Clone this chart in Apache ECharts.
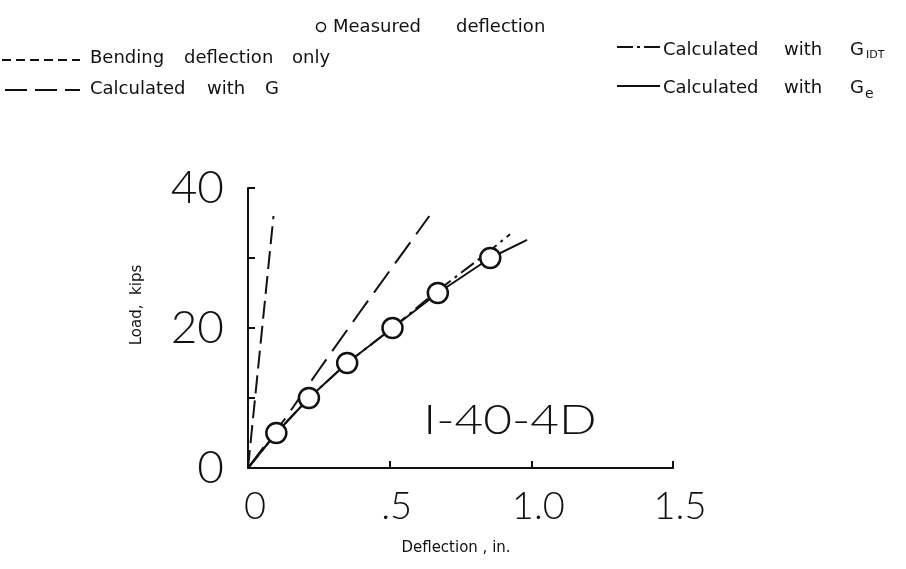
<!DOCTYPE html>
<html>
<head>
<meta charset="utf-8">
<script src="https://cdn.jsdelivr.net/npm/echarts@6/dist/echarts.min.js"></script>
<style>
  html, body { margin: 0; padding: 0; background: #fff; }
  #chart { width: 906px; height: 569px; }
</style>
</head>
<body>
<div id="chart"></div>
<script>
// Load (kips) versus deflection (in.) for specimen I-40-4D
const xTickLabels = ['0', '.5', '1.0', '1.5'];
const yTickLabels = ['0', '', '20', '', '40'];

// measured deflection points [deflection, load]
const measured = [[0.10, 5], [0.215, 10], [0.35, 15], [0.51, 20], [0.67, 25], [0.855, 30]];
// bending deflection only
const bendingOnly = [[0, 0], [0.09, 36]];
// calculated with G
const calcG = [[0, 0], [0.13, 7], [0.25, 14], [0.39, 22], [0.64, 36]];
// calculated with G_IDT
const calcGidt = [[0, 0], [0.10, 5], [0.215, 10], [0.35, 15], [0.51, 20], [0.665, 25.2], [0.84, 30.6], [0.925, 33.4]];
// calculated with G_e
const calcGe = [[0, 0], [0.10, 5], [0.215, 10], [0.35, 15], [0.51, 20], [0.67, 25], [0.855, 30], [0.985, 32.6]];

const ink = '#111';
const thinFont = 'Lato, "DejaVu Sans", sans-serif';
const textFont = '"DejaVu Sans", sans-serif';

const chart = echarts.init(document.getElementById('chart'), null, { renderer: 'canvas' });

function legendLine(x1, x2, y, dash) {
  return {
    type: 'line',
    shape: { x1: x1, y1: y, x2: x2, y2: y },
    style: { stroke: ink, lineWidth: 2, lineDash: dash }
  };
}
function word(x, y, text, size) {
  return {
    type: 'text', x: x, y: y,
    style: { text: text, fill: ink, font: (size || 18) + 'px ' + textFont, textVerticalAlign: 'middle' }
  };
}

const option = {
  backgroundColor: '#fff',
  animation: false,
  grid: { left: 248, right: 233, top: 188, bottom: 101, containLabel: false },
  xAxis: {
    type: 'value', min: 0, max: 1.5, interval: 0.5,
    axisLine: { lineStyle: { color: ink, width: 2 } },
    axisTick: { inside: true, length: 7, lineStyle: { color: ink, width: 2 } },
    axisLabel: {
      color: ink, fontSize: 38, fontFamily: thinFont, fontWeight: 300, margin: 20,
      padding: [0, 0, 0, 14],
      formatter: (v) => xTickLabels[Math.round(v / 0.5)]
    },
    splitLine: { show: false }
  },
  yAxis: {
    type: 'value', min: 0, max: 40, interval: 10,
    axisLine: { lineStyle: { color: ink, width: 2 } },
    axisTick: { inside: true, length: 7, lineStyle: { color: ink, width: 2 } },
    axisLabel: {
      color: ink, fontSize: 46, fontFamily: thinFont, fontWeight: 300, margin: 24,
      formatter: (v) => yTickLabels[Math.round(v / 10)]
    },
    splitLine: { show: false }
  },
  series: [
    { name: 'Bending deflection only', type: 'line', data: bendingOnly, symbol: 'none', z: 2,
      lineStyle: { color: ink, width: 2, type: [18, 7] } },
    { name: 'Calculated with G', type: 'line', data: calcG, symbol: 'none', z: 2,
      lineStyle: { color: ink, width: 2, type: [26, 10] } },
    { name: 'Calculated with G_IDT', type: 'line', data: calcGidt, symbol: 'none', z: 2,
      lineStyle: { color: ink, width: 2, type: [16, 5, 3, 5] } },
    { name: 'Calculated with G_e', type: 'line', data: calcGe, symbol: 'none', z: 2,
      lineStyle: { color: ink, width: 2 } },
    { name: 'Measured deflection', type: 'scatter', data: measured, symbol: 'circle', symbolSize: 20, z: 10,
      itemStyle: { color: '#ffffff', opacity: 1, borderColor: ink, borderWidth: 2.5 } }
  ],
  graphic: [
    // legend block
    { type: 'circle', shape: { cx: 321, cy: 27, r: 4.5 }, style: { fill: '#fff', stroke: ink, lineWidth: 1.5 } },
    word(333, 27, 'Measured'),
    word(456, 27, 'deflection'),

    legendLine(2, 80, 60, [9, 5]),
    word(90, 58, 'Bending'),
    word(184, 58, 'deflection'),
    word(292, 58, 'only'),

    legendLine(5, 80, 90, [22, 8]),
    word(90, 89, 'Calculated'),
    word(207, 89, 'with'),
    word(265, 89, 'G'),

    legendLine(617, 660, 47, [16, 4, 3, 4]),
    word(663, 50, 'Calculated'),
    word(784, 50, 'with'),
    word(850, 50, 'G'),
    word(866, 55, 'IDT', 11),

    legendLine(617, 660, 86, []),
    word(663, 88, 'Calculated'),
    word(784, 88, 'with'),
    word(850, 88, 'G'),
    word(865, 94, 'e', 14),

    // axis titles
    { type: 'text', x: 137, y: 305, rotation: Math.PI / 2,
      style: { text: 'Load,  kips', fill: ink, font: '15px ' + textFont, textAlign: 'center', textVerticalAlign: 'middle' } },
    { type: 'text', x: 456, y: 548,
      style: { text: 'Deflection , in.', fill: ink, font: '15px ' + textFont, textAlign: 'center', textVerticalAlign: 'middle' } },

    // specimen label
    { type: 'text', x: 510, y: 420, scaleX: 1.18, originX: 0, originY: 0,
      style: { text: 'I-40-4D', fill: ink, font: '300 42px ' + thinFont, textAlign: 'center', textVerticalAlign: 'middle' } }
  ]
};
chart.setOption(option);
</script>
</body>
</html>
